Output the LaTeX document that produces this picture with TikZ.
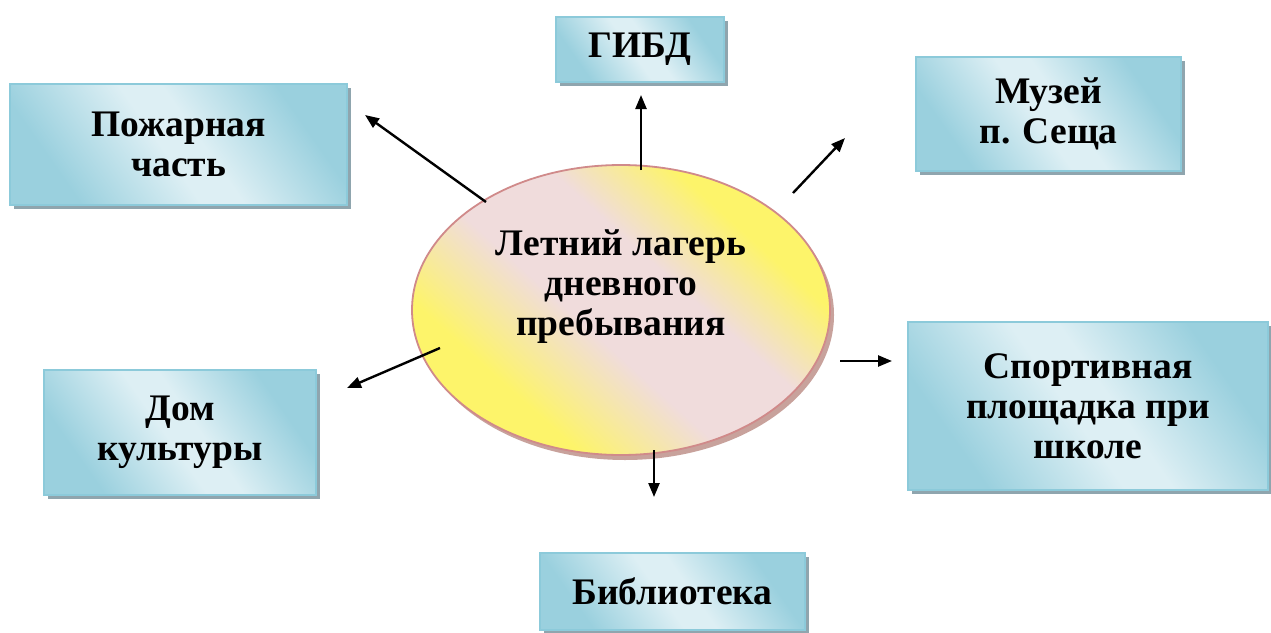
\documentclass[tikz,border=0pt]{standalone}
\usepackage{fontspec}
\setmainfont{Liberation Serif}
\usetikzlibrary{arrows.meta,shapes.geometric,shadows}
\definecolor{boxdark}{HTML}{9AD0DE}
\definecolor{boxlight}{HTML}{DDEFF4}
\definecolor{boxborder}{HTML}{8CCADA}
\definecolor{boxshadow}{HTML}{8FA5AE}
\definecolor{elyellow}{HTML}{FDF46A}
\definecolor{elpink}{HTML}{F0DCDC}
\definecolor{elborder}{HTML}{D08A8A}
\definecolor{elshadow}{HTML}{C8A29C}
\pgfdeclareverticalshading{boxshade}{100bp}{color(0bp)=(boxdark); color(27bp)=(boxdark); color(47bp)=(boxlight); color(54bp)=(boxlight); color(73bp)=(boxdark); color(100bp)=(boxdark)}
\pgfdeclareverticalshading{campshade}{100bp}{color(0bp)=(elyellow); color(31bp)=(elyellow); color(45bp)=(elpink); color(58bp)=(elpink); color(70bp)=(elyellow); color(100bp)=(elyellow)}
\tikzset{
  box/.style={rectangle, draw=boxborder, line width=1.2pt,
    shading=boxshade, shading angle=-55,
    general shadow={fill=boxshadow, shadow xshift=4pt, shadow yshift=-4pt},
    align=center, font=\fontsize{37.5}{40}\selectfont\bfseries, inner sep=0pt},
  camp/.style={ellipse, draw=elborder, line width=1.8pt,
    shading=campshade, shading angle=-42,
    general shadow={fill=elshadow, shadow xshift=4pt, shadow yshift=-5pt}, inner sep=0pt},
  arr/.style={line width=2.4pt, -{Triangle[length=14pt,width=11pt]}},
  lbl/.style={align=center, font=\fontsize{37.5}{40}\selectfont\bfseries, inner sep=0pt}
}
\begin{document}
\begin{tikzpicture}[x=1pt,y=-1pt]
\useasboundingbox[fill=white] (0,0) rectangle (1271,632);
\node[camp, minimum width=418pt, minimum height=290pt] (camp) at (621,310) {};
\node[lbl] (camptext) at (621,287) {Летний лагерь\\дневного\\пребывания};
\node[box, minimum width=337pt, minimum height=121pt] (fire) at (178.5,144.5) {Пожарная\\часть};
\node[box, minimum width=168pt, minimum height=65pt] (gibd) at (640,49.5) {ГИБД};
\node[box, minimum width=265pt, minimum height=114pt] (museum) at (1048.5,114) {Музей\\п. Сеща};
\node[box, minimum width=360pt, minimum height=168pt] (sport) at (1088,406) {Спортивная\\площадка при\\школе};
\node[box, minimum width=272pt, minimum height=125pt] (house) at (180,432.5) {Дом\\культуры};
\node[box, minimum width=265pt, minimum height=77pt] (lib) at (672.5,591.5) {Библиотека};
\coordinate (s1) at (486,202); \coordinate (e1) at (365,115);
\coordinate (s2) at (641,170); \coordinate (e2) at (641,95);
\coordinate (s3) at (793,193); \coordinate (e3) at (845,138);
\coordinate (s4) at (840,361); \coordinate (e4) at (892,361);
\coordinate (s5) at (440,348); \coordinate (e5) at (347,388);
\coordinate (s6) at (654,450); \coordinate (e6) at (654,497);
\draw[arr] (s1) -- (e1);
\draw[arr] (s2) -- (e2);
\draw[arr] (s3) -- (e3);
\draw[arr] (s4) -- (e4);
\draw[arr] (s5) -- (e5);
\draw[arr] (s6) -- (e6);
\end{tikzpicture}
\end{document}
